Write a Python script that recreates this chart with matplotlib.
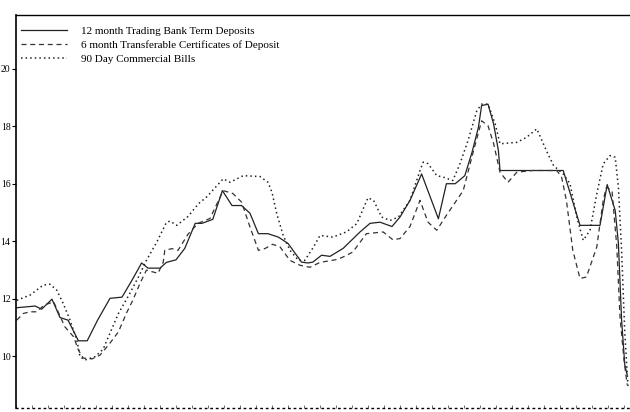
import matplotlib.pyplot as plt

# x = month number from start of series, y = interest rate (% p.a.)
tbtd_x = [0, 2.4, 3.2, 4.5, 5.5, 6.5, 7.8, 8.9, 10.2, 11.75, 13.25, 14.5, 15.7, 16.5, 18.0,
          18.8, 20.0, 21.1, 22.4, 23.25, 24.6, 25.8, 27.0, 28.2, 29.25, 30.3, 31.5, 32.8,
          34.0, 35.7, 36.5, 37.1, 38.2, 39.25, 40.9, 43.0, 44.25, 45.5, 47.0, 48.0, 49.25,
          50.7, 52.8, 53.8, 54.9, 56.1, 57.0, 57.8, 58.2, 59.0, 59.7, 60.3, 60.5, 68.4,
          70.5, 73.0, 73.9, 74.9, 75.3, 75.7, 76.1, 76.4]
tbtd_y = [11.68, 11.74, 11.63, 11.98, 11.34, 11.25, 10.53, 10.53, 11.25, 12.01, 12.05, 12.64,
          13.24, 13.06, 13.06, 13.26, 13.35, 13.75, 14.62, 14.62, 14.76, 15.76, 15.24, 15.24,
          14.97, 14.26, 14.26, 14.14, 13.92, 13.27, 13.24, 13.27, 13.51, 13.47, 13.75, 14.32,
          14.62, 14.66, 14.51, 14.84, 15.42, 16.34, 14.78, 16.0, 16.0, 16.28, 17.09, 17.96,
          18.72, 18.77, 18.08, 17.15, 16.46, 16.46, 14.55, 14.55, 15.97, 15.07, 13.92, 11.25,
          9.69, 9.34]

tcd_x = [0.1, 0.9, 1.75, 2.6, 3.5, 4.7, 6.1, 7.2, 7.8, 8.4, 9.5, 10.5, 11.75, 12.8, 13.8,
         14.6, 15.5, 16.3, 17.75, 18.4, 18.6, 19.5, 20.25, 21.5, 22.75, 24.25, 25.9, 27.1,
         28.2, 29.25, 30.3, 31.1, 32.1, 33.0, 34.25, 35.5, 36.75, 38.0, 40.1, 40.9, 42.1,
         43.8, 45.9, 47.1, 48.0, 49.25, 50.5, 51.5, 52.6, 53.8, 55.9, 57.1, 58.2, 59.0,
         59.7, 60.5, 61.5, 62.6, 64.6, 67.6, 68.2, 68.8, 69.6, 70.5, 71.3, 72.6, 73.4, 73.8,
         74.5, 75.1, 75.5, 76.0, 76.4]
tcd_y = [11.25, 11.48, 11.54, 11.54, 11.77, 11.89, 11.02, 10.67, 10.21, 9.93, 9.90, 10.03,
         10.45, 10.84, 11.49, 11.94, 12.53, 12.99, 12.88, 13.26, 13.68, 13.74, 13.68, 14.24,
         14.62, 14.79, 15.76, 15.66, 15.36, 14.49, 13.68, 13.74, 13.89, 13.80, 13.33, 13.16,
         13.09, 13.26, 13.36, 13.45, 13.62, 14.26, 14.32, 14.05, 14.09, 14.51, 15.42, 14.66,
         14.38, 14.90, 15.76, 17.05, 18.19, 18.02, 17.40, 16.40, 16.05, 16.40, 16.46, 16.46,
         16.23, 15.42, 13.68, 12.70, 12.75, 13.80, 15.42, 15.88, 15.76, 13.80, 11.36, 9.86,
         9.0]

bills_x = [0.1, 1.75, 3.4, 4.25, 5.1, 5.9, 6.75, 7.6, 8.0, 8.6, 9.9, 10.9, 11.75, 12.8, 14.25,
           15.3, 16.3, 17.6, 18.8, 19.25, 20.1, 21.5, 22.8, 23.8, 25.9, 26.75, 28.4, 30.5,
           31.5, 32.0, 32.6, 33.4, 34.25, 35.3, 36.1, 37.2, 38.0, 39.6, 41.3, 42.6, 44.0,
           44.7, 45.7, 46.75, 47.8, 49.25, 50.5, 50.9, 51.5, 52.6, 53.4, 54.6, 55.5, 56.5,
           57.6, 58.2, 59.0, 59.9, 60.5, 62.6, 63.8, 65.1, 66.3, 67.2, 68.4, 69.25, 70.1,
           70.9, 71.75, 72.6, 73.4, 74.25, 74.9, 75.3, 75.7, 76.1, 76.5]
bills_y = [11.94, 12.12, 12.47, 12.50, 12.29, 11.83, 11.25, 10.56, 9.98, 9.86, 9.98, 10.24,
           10.80, 11.48, 12.19, 12.75, 13.33, 13.97, 14.65, 14.70, 14.55, 14.86, 15.30, 15.53,
           16.17, 16.05, 16.28, 16.25, 16.05, 15.70, 14.95, 14.20, 13.68, 13.33, 13.33, 13.80,
           14.20, 14.14, 14.32, 14.61, 15.51, 15.42, 14.84, 14.72, 14.84, 15.42, 16.46, 16.75,
           16.70, 16.28, 16.23, 16.11, 16.70, 17.50, 18.54, 18.77, 18.77, 18.08, 17.39, 17.44,
           17.61, 17.91, 17.15, 16.63, 16.34, 16.0, 14.84, 14.03, 14.38, 15.65, 16.69, 16.98,
           16.92, 15.88, 13.68, 10.80, 8.93]

y_ticks = [10, 12, 14, 16, 18, 20]
month_ticks = list(range(0, 77, 2))

plt.rcParams['font.family'] = ['Liberation Serif', 'DejaVu Serif']

fig = plt.figure(figsize=(6.3, 4.12), dpi=100)
ax = fig.add_axes([16 / 630, 4 / 412, 614 / 630, 393 / 412])

ax.plot(tbtd_x, tbtd_y, color='#222222', lw=0.9, ls='-',
        label='12 month Trading Bank Term Deposits')
ax.plot(tcd_x, tcd_y, color='#333333', lw=0.9, ls=(0, (4, 3)),
        label='6 month Transferable Certificates of Deposit')
ax.plot(bills_x, bills_y, color='#222222', lw=1.1, ls=(0, (1, 2)),
        label='90 Day Commercial Bills')

ax.set_xlim(0, 76.75)
ax.set_ylim(8.19, 21.875)
ax.set_yticks(y_ticks)
ax.set_yticklabels([str(t) for t in y_ticks], fontsize=7)
ax.tick_params(axis='y', direction='out', length=3, width=0.8, pad=1)
ax.set_xticks(month_ticks)
ax.set_xticklabels([])
ax.tick_params(axis='x', direction='in', length=2, width=0.6, colors='#555555')

ax.spines['right'].set_visible(False)
ax.spines['left'].set_linewidth(1.2)
ax.spines['top'].set_linestyle((0, (2, 1)))
ax.spines['top'].set_linewidth(1.0)
ax.spines['bottom'].set_linestyle((0, (1, 3)))
ax.spines['bottom'].set_linewidth(1.0)

ax.legend(loc='upper left', bbox_to_anchor=(-0.008, 0.998), frameon=False, fontsize=8,
          handlelength=4.1, handletextpad=1.3, labelspacing=0.4)

fig.savefig('out.png', dpi=100)
